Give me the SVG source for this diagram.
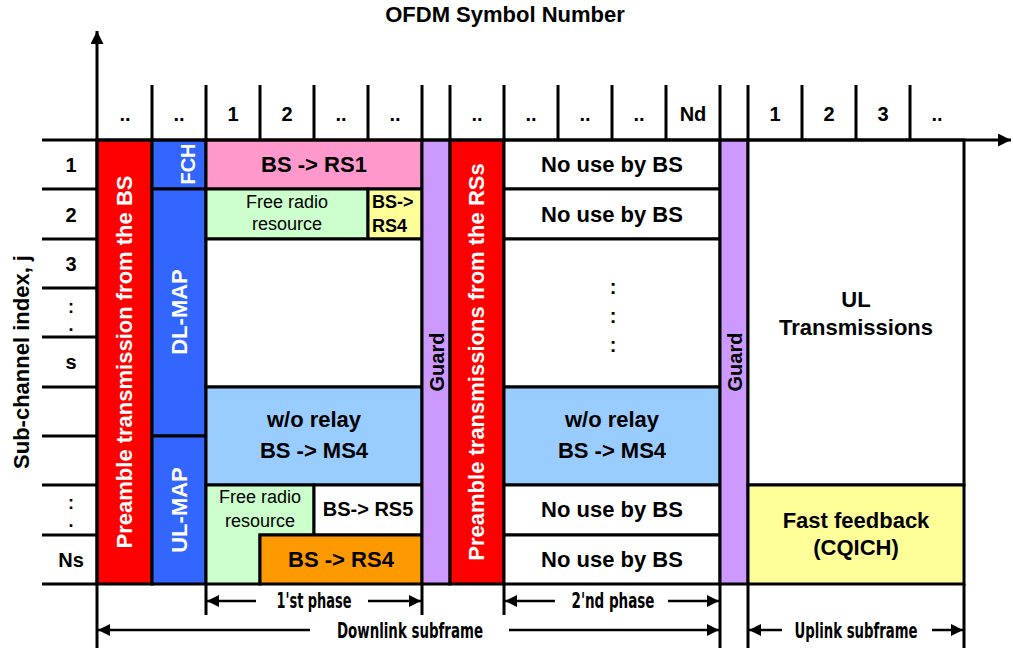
<svg xmlns="http://www.w3.org/2000/svg" width="1013" height="648" viewBox="0 0 1013 648">
<defs>
<style>
.c{stroke:#000;stroke-width:3}
.red{fill:#FF0000}.blue{fill:#3366FF}.pink{fill:#FF99CC}.grn{fill:#CCFFCC}.yel{fill:#FFFF99}
.lb{fill:#99CCFF}.org{fill:#FF9900}.pur{fill:#CC99FF}.wh{fill:#FFFFFF}
.t{font-family:"Liberation Sans",Arial,sans-serif;font-weight:bold;font-size:22px;fill:#000;text-anchor:middle}
.w{fill:#FFFFFF}
.h{font-size:20px}
.n{font-weight:normal;font-size:18px}
.s18{font-size:18px}
.ln{stroke:#000;stroke-width:3;fill:none}
.dim{stroke:#000;stroke-width:2.5;fill:none}
.cd{font-family:"Liberation Sans Narrow","DejaVu Sans Condensed","DejaVu Sans",sans-serif;font-stretch:condensed;font-weight:bold;font-size:22px;fill:#000;text-anchor:middle}
</style>
<marker id="ah" viewBox="0 0 12 12" refX="12" refY="6" markerWidth="12" markerHeight="12" markerUnits="userSpaceOnUse" orient="auto-start-reverse">
<path d="M0,0 L12,6 L0,12 Z" fill="#000"/>
</marker>
<marker id="ax" viewBox="0 0 13 13" refX="13" refY="6.5" markerWidth="13" markerHeight="13" markerUnits="userSpaceOnUse" orient="auto">
<path d="M0,0 L13,6.5 L0,13 Z" fill="#000"/>
</marker>
</defs>
<rect width="1013" height="648" fill="#FFFFFF"/>

<text class="t" x="505" y="22">OFDM Symbol Number</text>
<text class="t" transform="translate(29,362) rotate(-90)">Sub-channel index, j</text>

<g id="header">
<path class="ln" d="M152,85V140M206,85V140M260,85V140M314,85V140M368,85V140M422,85V140M450,85V140M504,85V140M558,85V140M612,85V140M666,85V140M720,85V140M748,85V140M802,85V140M856,85V140M910,85V140"/>
<text class="t h" x="125" y="121">..</text>
<text class="t h" x="179" y="121">..</text>
<text class="t h" x="233" y="121">1</text>
<text class="t h" x="287" y="121">2</text>
<text class="t h" x="341" y="121">..</text>
<text class="t h" x="395" y="121">..</text>
<text class="t h" x="477" y="121">..</text>
<text class="t h" x="531" y="121">..</text>
<text class="t h" x="585" y="121">..</text>
<text class="t h" x="639" y="121">..</text>
<text class="t h" x="693" y="121">Nd</text>
<text class="t h" x="775" y="121">1</text>
<text class="t h" x="829" y="121">2</text>
<text class="t h" x="883" y="121">3</text>
<text class="t h" x="937" y="121">..</text>
</g>

<g id="rows">
<path class="ln" d="M42,189H97M42,239H97M42,288H97M42,337H97M42,387H97M42,436H97M42,485H97M42,535H97M42,584H97"/>
<text class="t h" x="71" y="172">1</text>
<text class="t h" x="71" y="222">2</text>
<text class="t h" x="71" y="271">3</text>
<text class="t s18" x="71" y="313">:</text>
<text class="t s18" x="71" y="331">.</text>
<text class="t h" x="71" y="369">s</text>
<text class="t s18" x="71" y="509">:</text>
<text class="t s18" x="71" y="527">.</text>
<text class="t h" x="71" y="567">Ns</text>
</g>

<g id="preamble-bs"><rect class="c red" x="97" y="140" width="55" height="444"/>
<text class="t w" transform="translate(132,362) rotate(-90)">Preamble transmission from the BS</text></g>
<g id="fch"><rect class="c blue" x="152" y="140" width="54" height="49"/>
<text class="t w h" transform="translate(195,164) rotate(-90)">FCH</text></g>
<g id="dl-map"><rect class="c blue" x="152" y="189" width="54" height="247"/>
<text class="t w" transform="translate(187,312) rotate(-90)">DL-MAP</text></g>
<g id="ul-map"><rect class="c blue" x="152" y="436" width="54" height="148"/>
<text class="t w" transform="translate(187,510) rotate(-90)">UL-MAP</text></g>
<g id="bs-rs1"><rect class="c pink" x="206" y="140" width="216" height="49"/>
<text class="t" x="314" y="172">BS -&gt; RS1</text></g>
<g id="free1"><rect class="c grn" x="206" y="189" width="162" height="50"/>
<text class="t n" x="287" y="208">Free radio</text>
<text class="t n" x="287" y="230">resource</text></g>
<g id="bs-rs4-a"><rect class="c yel" x="368" y="189" width="54" height="50"/>
<text class="t s18" x="372" y="208" style="text-anchor:start">BS-&gt;</text>
<text class="t s18" x="372" y="232" style="text-anchor:start">RS4</text></g>
<g id="empty1"><rect class="c wh" x="206" y="239" width="216" height="148"/></g>
<g id="wo-relay-1"><rect class="c lb" x="206" y="387" width="216" height="98"/>
<text class="t" x="314" y="427">w/o relay</text>
<text class="t" x="314" y="458">BS -&gt; MS4</text></g>
<g id="free2"><path class="c grn" d="M206,485H314V535H260V584H206Z"/>
<text class="t n" x="260" y="503">Free radio</text>
<text class="t n" x="260" y="527">resource</text></g>
<g id="bs-rs5"><rect class="c wh" x="314" y="485" width="108" height="50"/>
<text class="t h" x="368" y="516">BS-&gt; RS5</text></g>
<g id="bs-rs4-b"><rect class="c org" x="260" y="535" width="162" height="49"/>
<text class="t" x="341" y="567">BS -&gt; RS4</text></g>
<g id="guard1"><rect class="c pur" x="422" y="140" width="28" height="444"/>
<text class="t h" transform="translate(444,362) rotate(-90)">Guard</text></g>
<g id="preamble-rs"><rect class="c red" x="450" y="140" width="54" height="444"/>
<text class="t w" transform="translate(484,362) rotate(-90)">Preamble transmissions from the RSs</text></g>
<g id="nouse1"><rect class="c wh" x="504" y="140" width="216" height="49"/>
<text class="t" x="612" y="172">No use by BS</text></g>
<g id="nouse2"><rect class="c wh" x="504" y="189" width="216" height="50"/>
<text class="t" x="612" y="222">No use by BS</text></g>
<g id="dots"><rect class="c wh" x="504" y="239" width="216" height="148"/>
<text class="t h" x="613" y="294">:</text>
<text class="t h" x="613" y="323">:</text>
<text class="t h" x="613" y="352">:</text></g>
<g id="wo-relay-2"><rect class="c lb" x="504" y="387" width="216" height="98"/>
<text class="t" x="612" y="427">w/o relay</text>
<text class="t" x="612" y="458">BS -&gt; MS4</text></g>
<g id="nouse3"><rect class="c wh" x="504" y="485" width="216" height="50"/>
<text class="t" x="612" y="517">No use by BS</text></g>
<g id="nouse4"><rect class="c wh" x="504" y="535" width="216" height="49"/>
<text class="t" x="612" y="567">No use by BS</text></g>
<g id="guard2"><rect class="c pur" x="720" y="140" width="28" height="444"/>
<text class="t h" transform="translate(742,362) rotate(-90)">Guard</text></g>
<g id="ul"><rect class="c wh" x="748" y="140" width="216" height="345"/>
<text class="t" x="856" y="307">UL</text>
<text class="t" x="856" y="335">Transmissions</text></g>
<g id="fast-feedback"><rect class="c yel" x="748" y="485" width="216" height="99"/>
<text class="t" x="856" y="528">Fast feedback</text>
<text class="t" x="856" y="555">(CQICH)</text></g>

<g id="connectors">
<path class="ln" d="M97,648V31" marker-end="url(#ax)"/>
<path class="ln" d="M42,140H1011" marker-end="url(#ax)"/>
<path class="ln" d="M206,584V615M422,584V615M504,584V615M720,584V648M748,584V648M964,584V648"/>
<path class="dim" d="M256,601H207" marker-end="url(#ah)"/>
<path class="dim" d="M368,601H421" marker-end="url(#ah)"/>
<path class="dim" d="M555,601H505" marker-end="url(#ah)"/>
<path class="dim" d="M668,601H719" marker-end="url(#ah)"/>
<path class="dim" d="M310,630H98" marker-end="url(#ah)"/>
<path class="dim" d="M509,630H719" marker-end="url(#ah)"/>
<path class="dim" d="M782,630H749" marker-end="url(#ah)"/>
<path class="dim" d="M932,630H963" marker-end="url(#ah)"/>
<text class="cd" x="314" y="608" textLength="75" lengthAdjust="spacingAndGlyphs">1'st phase</text>
<text class="cd" x="613" y="608" textLength="83" lengthAdjust="spacingAndGlyphs">2'nd phase</text>
<text class="cd" x="410" y="638" textLength="146" lengthAdjust="spacingAndGlyphs">Downlink subframe</text>
<text class="cd" x="856" y="638" textLength="123" lengthAdjust="spacingAndGlyphs">Uplink subframe</text>
</g>
</svg>
